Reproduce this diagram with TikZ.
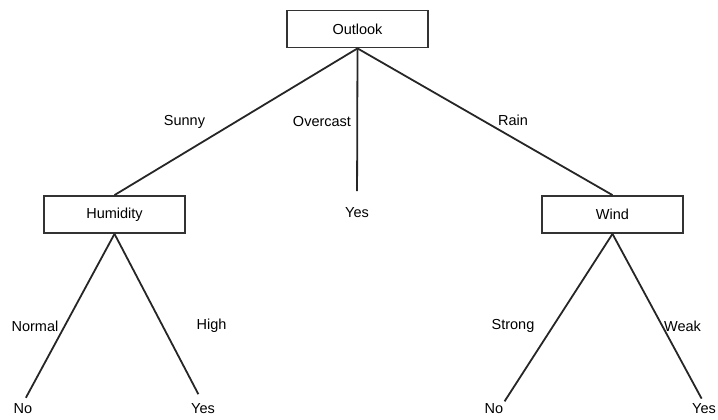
\documentclass[tikz,border=0pt]{standalone}
\usepackage{fontspec}
\setmainfont{Liberation Sans}
\begin{document}
\begin{tikzpicture}[x=1pt,y=-1pt,
  attr/.style={draw=black!80, line width=1.8pt, fill=white, minimum width=141pt,
    minimum height=37pt, inner sep=0pt, font=\fontsize{14.5}{16}\selectfont},
  leaf/.style={inner sep=0pt, text height=10.5pt, text depth=3pt,
    font=\fontsize{14.5}{16}\selectfont},
  lbl/.style={inner sep=0pt, font=\fontsize{14.5}{16}\selectfont},
  branch/.style={draw=black!85, line width=1.8pt}]
  \useasboundingbox (0,0) rectangle (718,420);

  % decision nodes
  \node[attr] (outlook)  at (357.5,29)  {Outlook};
  \node[attr] (humidity) at (114.5,214.5) {Humidity};
  \node[attr] (wind)     at (612.5,214.5) {Wind};

  % leaves
  \node[leaf] (yesO) at (357,214) {Yes};
  \node[leaf] (noH)  at (23,410)  {No};
  \node[leaf] (yesH) at (203,410) {Yes};
  \node[leaf] (noW)  at (494,410) {No};
  \node[leaf] (yesW) at (704,410) {Yes};

  % branches
  \draw[branch] (outlook.south) -- (humidity.north);
  \draw[branch, shorten >=16pt] (outlook.south) -- (yesO.north);
  \draw[branch] (outlook.south) -- (wind.north);
  \draw[branch, shorten >=6pt] (humidity.south) -- (noH.north);
  \draw[branch, shorten >=10pt] (humidity.south) -- (yesH.north);
  \draw[branch, shorten >=2pt] (wind.south) -- (noW.north east);
  \draw[branch, shorten >=5pt] (wind.south) -- (yesW.north);

  % branch labels
  \node[lbl] (sunny)    at (184.5,122) {Sunny};
  \node[lbl] (overcast) at (322,122)   {Overcast};
  \node[lbl] (rain)     at (513,120)   {Rain};
  \node[lbl] (normal)   at (35,326)    {Normal};
  \node[lbl] (high)     at (211.5,326) {High};
  \node[lbl] (strong)   at (513,326)   {Strong};
  \node[lbl] (weak)     at (682.5,326) {Weak};
\end{tikzpicture}
\end{document}
